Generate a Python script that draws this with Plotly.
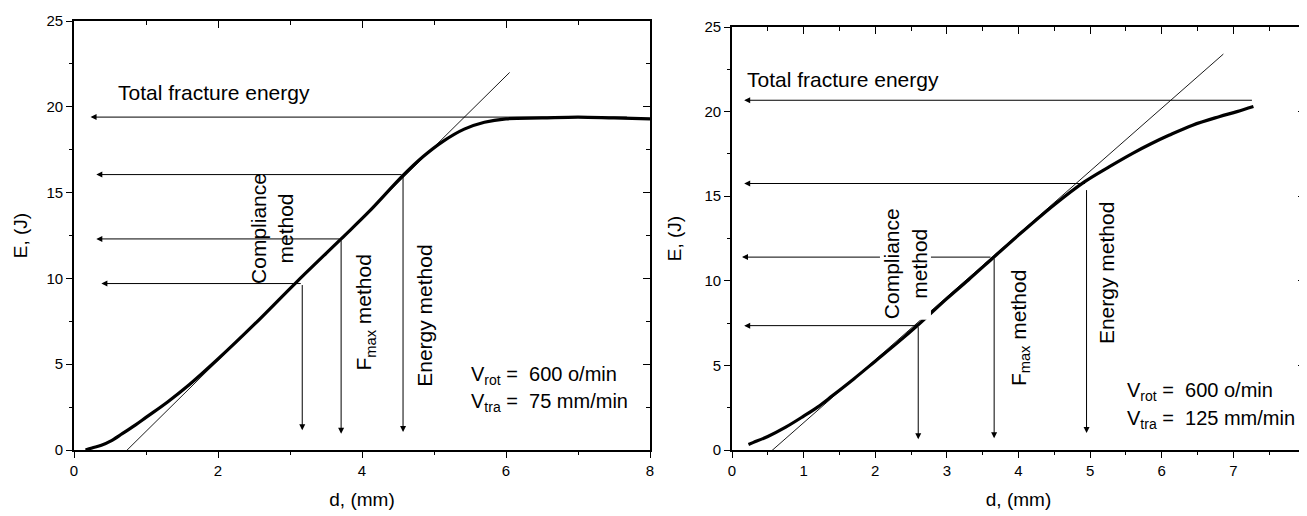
import plotly.graph_objects as go

# ---------------- data: left panel (V_tra = 75 mm/min) ----------------
d_left = [0.16, 0.25, 0.38, 0.5, 0.67, 0.85, 1.0, 1.3, 1.6, 2.0, 2.5, 3.07, 3.71, 4.1, 4.57, 4.85, 5.13, 5.42,
          5.7, 6.0, 6.5, 7.0, 7.5, 8.0]
E_left = [0.0, 0.12, 0.27, 0.5, 0.95, 1.45, 1.9, 2.8, 3.8, 5.3, 7.3, 9.7, 12.3, 13.9, 16.0, 17.1, 18.0, 18.7,
          19.1, 19.3, 19.35, 19.4, 19.35, 19.3]
tan_left_d = [0.69, 6.05]
tan_left_E = [-0.2, 22.0]
harrow_left_x0 = [7.7, 4.57, 3.71, 3.17]
harrow_left_x1 = [0.23, 0.31, 0.31, 0.38]
harrow_left_E = [19.4, 16.05, 12.3, 9.7]
varrow_left_d = [3.17, 3.71, 4.57]
varrow_left_E0 = [9.7, 12.3, 16.05]
varrow_left_E1 = [1.15, 0.95, 1.05]

# ---------------- data: right panel (V_tra = 125 mm/min) ----------------
d_right = [0.23, 0.3, 0.5, 0.75, 1.0, 1.2, 1.4, 1.7, 2.0, 2.3, 2.6, 3.0, 3.3, 3.63, 4.0, 4.5, 4.92, 5.27, 5.6,
           5.85, 6.1, 6.43, 6.8, 7.05, 7.28]
E_right = [0.33, 0.45, 0.8, 1.35, 2.0, 2.55, 3.2, 4.2, 5.25, 6.3, 7.4, 8.95, 10.05, 11.3, 12.7, 14.5, 15.85,
           16.75, 17.55, 18.1, 18.6, 19.2, 19.7, 20.0, 20.3]
tan_right_d = [0.55, 6.86]
tan_right_E = [-0.06, 23.4]
harrow_right_x0 = [7.28, 4.95, 3.63, 2.6]
harrow_right_x1 = [0.17, 0.17, 0.14, 0.17]
harrow_right_E = [20.67, 15.75, 11.4, 7.35]
varrow_right_d = [2.6, 3.66, 4.95]
varrow_right_E0 = [7.35, 11.4, 15.45]
varrow_right_E1 = [0.63, 0.7, 1.0]

FONT = "Liberation Sans, Arial, sans-serif"
INNER_TICK_COLOR = "black"

fig = go.Figure()

fig.add_trace(go.Scatter(x=d_left, y=E_left, mode="lines", line=dict(color="black", width=3.2, shape="spline"),
                         xaxis="x", yaxis="y", showlegend=False, hoverinfo="skip"))
fig.add_trace(go.Scatter(x=tan_left_d, y=tan_left_E, mode="lines", line=dict(color="black", width=0.9),
                         xaxis="x", yaxis="y", showlegend=False, hoverinfo="skip"))
fig.add_trace(go.Scatter(x=d_right, y=E_right, mode="lines", line=dict(color="black", width=3.2, shape="spline"),
                         xaxis="x2", yaxis="y2", showlegend=False, hoverinfo="skip"))
fig.add_trace(go.Scatter(x=tan_right_d, y=tan_right_E, mode="lines", line=dict(color="black", width=0.9),
                         xaxis="x2", yaxis="y2", showlegend=False, hoverinfo="skip"))
# invisible traces carrying the inner (mirrored) tick axes
for xa, ya in [("x3", "y"), ("x", "y3"), ("x4", "y2"), ("x2", "y4")]:
    fig.add_trace(go.Scatter(x=[1], y=[1], mode="markers", marker=dict(opacity=0), xaxis=xa, yaxis=ya,
                             showlegend=False, hoverinfo="skip"))

annotations = []


def arrow(xr, yr, x0, y0, x1, y1):
    annotations.append(dict(x=x1, y=y1, ax=x0, ay=y0, xref=xr, yref=yr, axref=xr, ayref=yr,
                            showarrow=True, arrowhead=2, arrowsize=1.2, arrowwidth=1, arrowcolor="black",
                            text=""))


for x0, x1, e in zip(harrow_left_x0, harrow_left_x1, harrow_left_E):
    arrow("x", "y", x0, e, x1, e)
for dd, e0, e1 in zip(varrow_left_d, varrow_left_E0, varrow_left_E1):
    arrow("x", "y", dd, e0, dd, e1)
for x0, x1, e in zip(harrow_right_x0, harrow_right_x1, harrow_right_E):
    arrow("x2", "y2", x0, e, x1, e)
for dd, e0, e1 in zip(varrow_right_d, varrow_right_E0, varrow_right_E1):
    arrow("x2", "y2", dd, e0, dd, e1)

ANN_SIZE = 21


def label(xr, yr, x, y, text, angle=0, xanchor="center", yanchor="middle", bg=None, size=ANN_SIZE):
    a = dict(x=x, y=y, xref=xr, yref=yr, text=text, showarrow=False, textangle=angle,
             xanchor=xanchor, yanchor=yanchor, font=dict(family=FONT, size=size, color="black"),
             borderpad=0)
    if bg:
        a["bgcolor"] = bg
    annotations.append(a)


label("x", "y", 0.6, 20.86, "Total fracture energy", xanchor="left")
label("x", "y", 2.74, 12.9, "Compliance<br>method", angle=-90)
label("x", "y", 4.04, 8.0, "F<sub>max</sub> method", angle=-90)
label("x", "y", 4.87, 7.8, "Energy method", angle=-90)
label("x", "y", 5.5, 4.37, "V<sub>rot</sub> =  600 o/min", xanchor="left", size=20)
label("x", "y", 5.5, 2.74, "V<sub>tra</sub> =  75 mm/min", xanchor="left", size=20)

label("x2", "y2", 0.2, 21.9, "Total fracture energy", xanchor="left")
label("x2", "y2", 2.42, 11.0, "Compliance<br>method", angle=-90, bg="white")
label("x2", "y2", 4.02, 7.2, "F<sub>max</sub> method", angle=-90)
label("x2", "y2", 5.22, 10.45, "Energy method", angle=-90)
label("x2", "y2", 5.5, 3.43, "V<sub>rot</sub> =  600 o/min", xanchor="left", size=20)
label("x2", "y2", 5.5, 1.83, "V<sub>tra</sub> =  125 mm/min", xanchor="left", size=20)

tickfont = dict(family=FONT, size=15, color="black")
titlefont = dict(family=FONT, size=19, color="black")


def xax(domain, dtick, minor_dtick, anchor):
    return dict(domain=domain, range=[0, 8], dtick=dtick, tick0=0, ticks="outside", ticklen=6, tickwidth=1.3,
                tickcolor="black", showline=True, linecolor="black", linewidth=1.8, mirror=True,
                showgrid=False, zeroline=False, tickfont=tickfont, anchor=anchor, automargin=False,
                ticklabeloverflow="allow",
                minor=dict(dtick=minor_dtick, tick0=0, ticks="outside", ticklen=3, tickwidth=1.1,
                           tickcolor="black", showgrid=False),
                title=dict(text="d, (mm)", font=titlefont, standoff=15))


def yax(domain, anchor, standoff):
    return dict(domain=domain, range=[0, 25], dtick=5, tick0=0, ticks="outside", ticklen=6, tickwidth=1.3,
                tickcolor="black", showline=True, linecolor="black", linewidth=1.8, mirror=True,
                showgrid=False, zeroline=False, tickfont=tickfont, anchor=anchor, automargin=False,
                minor=dict(dtick=2.5, tick0=0, ticks="outside", ticklen=3, tickwidth=1.1, tickcolor="black",
                           showgrid=False),
                title=dict(text="E, (J)", font=titlefont, standoff=standoff))


def xin(domain, dtick, minor_dtick, anchor, over):
    return dict(domain=domain, range=[0, 8], dtick=dtick, tick0=0, ticks="inside", ticklen=7, tickwidth=1.3,
                tickcolor=INNER_TICK_COLOR, side="top", overlaying=over, anchor=anchor, showticklabels=False,
                showgrid=False, zeroline=False, showline=False, automargin=False,
                minor=dict(dtick=minor_dtick, tick0=0, ticks="inside", ticklen=4, tickwidth=1.1,
                           tickcolor=INNER_TICK_COLOR, showgrid=False))


def yin(domain, anchor, over):
    return dict(domain=domain, range=[0, 25], dtick=5, tick0=0, ticks="inside", ticklen=7, tickwidth=1.3,
                tickcolor=INNER_TICK_COLOR, side="right", overlaying=over, anchor=anchor, showticklabels=False,
                showgrid=False, zeroline=False, showline=False, automargin=False,
                minor=dict(dtick=2.5, tick0=0, ticks="inside", ticklen=4, tickwidth=1.1,
                           tickcolor=INNER_TICK_COLOR, showgrid=False))


# The page body has an 8px margin, so the figure is sized/positioned to compensate.
W, H, OFF = 1299, 508, 8
L_X = [(74 - OFF) / W, (650 - OFF) / W]
L_Y = [(H - (450 - OFF)) / H, (H - (21 - OFF)) / H]
R_X = [(732 - OFF) / W, (1305 - OFF) / W]
R_Y = [(H - (450 - OFF)) / H, (H - (27 - OFF)) / H]

fig.update_layout(
    template="none",
    width=W, height=H,
    margin=dict(l=0, r=0, t=0, b=0, autoexpand=False),
    paper_bgcolor="white", plot_bgcolor="white",
    xaxis=xax(L_X, 2, 1, "y"),
    yaxis=yax(L_Y, "x", 14),
    xaxis2=xax(R_X, 1, 0.5, "y2"),
    yaxis2=yax(R_Y, "x2", 18),
    xaxis3=xin(L_X, 2, 1, "y", "x"),
    yaxis3=yin(L_Y, "x", "y"),
    xaxis4=xin(R_X, 1, 0.5, "y2", "x2"),
    yaxis4=yin(R_Y, "x2", "y2"),
    annotations=annotations,
    showlegend=False,
)

fig.write_html("out.html")
